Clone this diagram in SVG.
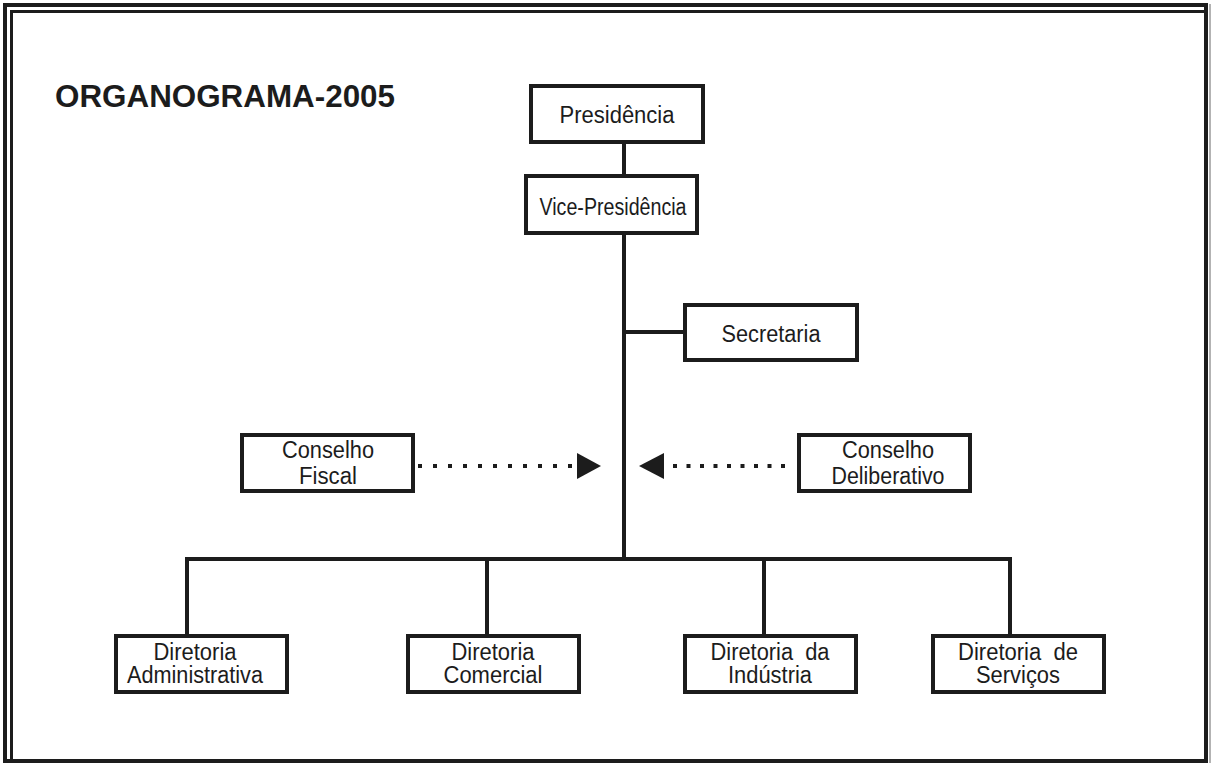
<svg xmlns="http://www.w3.org/2000/svg" width="1212" height="765" viewBox="0 0 1212 765">
  <style>
    .box { fill: #ffffff; stroke: #1c1c1c; stroke-width: 4; }
    .lbl { font-family: "Liberation Sans", Arial, sans-serif; font-size: 23.5px; fill: #1c1c1c; text-anchor: middle; white-space: pre; }
    .wire { stroke: #1c1c1c; stroke-width: 4; fill: none; }
    .dots { stroke: #1c1c1c; stroke-width: 4; fill: none; }
    .head { fill: #1c1c1c; }
    .title { font-family: "Liberation Sans", Arial, sans-serif; font-size: 32px; font-weight: bold; fill: #1c1c1c; }
  </style>

  <!-- page background and double frame -->
  <rect x="0" y="0" width="1212" height="765" fill="#ffffff"/>
  <g id="frame">
    <rect x="5" y="5" width="1201" height="756" fill="none" stroke="#1c1c1c" stroke-width="4"/>
    <rect x="11.5" y="11.5" width="1194.5" height="749.5" fill="none" stroke="#1c1c1c" stroke-width="3"/>
    <line x1="1210" y1="4" x2="1210" y2="763" stroke="#9a9a9a" stroke-width="1.5"/>
  </g>

  <text id="title" class="title" x="55" y="107" textLength="340" lengthAdjust="spacingAndGlyphs">ORGANOGRAMA-2005</text>

  <!-- connectors -->
  <g id="connectors">
    <line class="wire" x1="624" y1="142" x2="624" y2="176"/>
    <line class="wire" x1="624" y1="233" x2="624" y2="559"/>
    <line class="wire" x1="624" y1="332" x2="685" y2="332"/>
    <polyline class="wire" points="187,636 187,559 1010,559 1010,636"/>
    <line class="wire" x1="487" y1="559" x2="487" y2="636"/>
    <line class="wire" x1="764" y1="559" x2="764" y2="636"/>
    <!-- advisory councils: dotted arrows toward the main trunk -->
    <line class="dots" x1="418" y1="466" x2="573" y2="466" stroke-dasharray="4 11"/>
    <polygon class="head" points="577,453 601,466 577,479"/>
    <line class="dots" x1="673" y1="466" x2="786" y2="466" stroke-dasharray="4 9.5"/>
    <polygon class="head" points="639,466 664,453 664,479"/>
  </g>

  <g id="presidencia">
    <rect class="box" x="531" y="86" width="172" height="56"/>
    <text class="lbl" x="617" y="123" textLength="115" lengthAdjust="spacingAndGlyphs">Presidência</text>
  </g>

  <g id="vice-presidencia">
    <rect class="box" x="526" y="176" width="171" height="57"/>
    <text class="lbl" x="613" y="215" textLength="147" lengthAdjust="spacingAndGlyphs">Vice-Presidência</text>
  </g>

  <g id="secretaria">
    <rect class="box" x="685" y="305" width="172" height="55"/>
    <text class="lbl" x="771" y="342" textLength="99" lengthAdjust="spacingAndGlyphs">Secretaria</text>
  </g>

  <g id="conselho-fiscal">
    <rect class="box" x="242" y="435" width="171" height="56"/>
    <text class="lbl" x="328" y="458" textLength="92" lengthAdjust="spacingAndGlyphs">Conselho</text>
    <text class="lbl" x="328" y="484" textLength="58" lengthAdjust="spacingAndGlyphs">Fiscal</text>
  </g>

  <g id="conselho-deliberativo">
    <rect class="box" x="799" y="435" width="171" height="56"/>
    <text class="lbl" x="888" y="458" textLength="92" lengthAdjust="spacingAndGlyphs">Conselho</text>
    <text class="lbl" x="888" y="484" textLength="113" lengthAdjust="spacingAndGlyphs">Deliberativo</text>
  </g>

  <g id="diretoria-administrativa">
    <rect class="box" x="116" y="636" width="171" height="56"/>
    <text class="lbl" x="195" y="660" textLength="83" lengthAdjust="spacingAndGlyphs">Diretoria</text>
    <text class="lbl" x="195" y="683" textLength="136" lengthAdjust="spacingAndGlyphs">Administrativa</text>
  </g>

  <g id="diretoria-comercial">
    <rect class="box" x="408" y="636" width="171" height="56"/>
    <text class="lbl" x="493" y="660" textLength="83" lengthAdjust="spacingAndGlyphs">Diretoria</text>
    <text class="lbl" x="493" y="683" textLength="99" lengthAdjust="spacingAndGlyphs">Comercial</text>
  </g>

  <g id="diretoria-industria">
    <rect class="box" x="685" y="636" width="171" height="56"/>
    <text class="lbl" x="770" y="660" xml:space="preserve" textLength="119" lengthAdjust="spacingAndGlyphs">Diretoria  da</text>
    <text class="lbl" x="770" y="683" textLength="84" lengthAdjust="spacingAndGlyphs">Indústria</text>
  </g>

  <g id="diretoria-servicos">
    <rect class="box" x="933" y="636" width="171" height="56"/>
    <text class="lbl" x="1018" y="660" xml:space="preserve" textLength="120" lengthAdjust="spacingAndGlyphs">Diretoria  de</text>
    <text class="lbl" x="1018" y="683" textLength="84" lengthAdjust="spacingAndGlyphs">Serviços</text>
  </g>
</svg>
